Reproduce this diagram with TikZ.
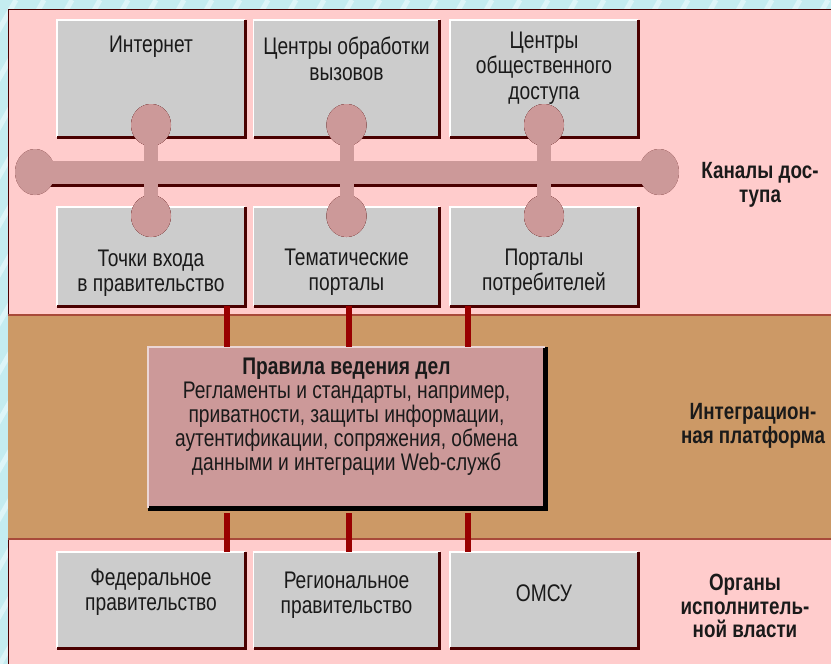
\documentclass[tikz,border=0pt]{standalone}
\usepackage{fontspec}
\setmainfont{Liberation Sans}[FakeStretch=0.8]
\definecolor{outercyan}{HTML}{C4ECF0}
\definecolor{stripe}{HTML}{DDF5F8}
\definecolor{panelpink}{HTML}{FFCCCC}
\definecolor{bandbrown}{HTML}{CC9966}
\definecolor{bandline}{HTML}{A84A3A}
\definecolor{boxgrey}{HTML}{CCCCCC}
\definecolor{shadowred}{HTML}{4A0000}
\definecolor{rose}{HTML}{CC9999}
\definecolor{connred}{HTML}{990000}
\definecolor{txt}{HTML}{1A1A1A}
\begin{document}
\begin{tikzpicture}[x=1pt,y=-1pt,
  gbox/.style={fill=boxgrey,draw=none,inner sep=0pt,outer sep=0pt},
  midbox/.style={fill=rose,draw=none,inner sep=0pt,outer sep=0pt},
  hl/.style={draw=white,line width=1.5pt},
  sh/.style={draw=shadowred,line width=3pt},
  btext/.style={align=center,text=txt,inner sep=0pt,font=\fontsize{24}{25.5}\selectfont},
  mtext/.style={align=center,text=txt,inner sep=0pt,font=\fontsize{24}{24}\selectfont},
  side/.style={align=center,text=txt,inner sep=0pt,font=\bfseries\fontsize{23.5}{23.5}\selectfont},
  conn/.style={draw=connred,line width=6pt},
  connsh/.style={draw=black,line width=6pt},
  busfill/.style={fill=rose},
  busshadow/.style={fill=shadowred}
]
\useasboundingbox (0,0) rectangle (831,664);
% outer hatched background
\fill[outercyan] (0,0) rectangle (831,664);
\begin{scope}
  \clip (0,0) rectangle (831,664);
  \foreach \i in {-420,-392,...,860} \draw[stripe,line width=5pt] (\i,664) -- (\i+380,0);
\end{scope}
% panel and bands
\fill[panelpink] (8,9) rectangle (831,664);
\draw[shadowred,line width=1pt] (8,664) -- (8,9) -- (831,9);
\fill[bandbrown] (8,315) rectangle (831,539);
\draw[bandline,line width=1.2pt] (8,315) -- (831,315);
\draw[bandline,line width=1.2pt] (8,539) -- (831,539);

% grey boxes
\node[gbox,minimum width=188,minimum height=117] (t1) at (151,78.5) {};
\node[gbox,minimum width=186,minimum height=117] (t2) at (346.5,78.5) {};
\node[gbox,minimum width=188,minimum height=117] (t3) at (544,78.5) {};
\node[gbox,minimum width=188,minimum height=99] (m1) at (151,256.5) {};
\node[gbox,minimum width=186,minimum height=99] (m2) at (346.5,256.5) {};
\node[gbox,minimum width=188,minimum height=99] (m3) at (544,256.5) {};
\node[gbox,minimum width=188,minimum height=96] (b1) at (151,600) {};
\node[gbox,minimum width=186,minimum height=96] (b2) at (346.5,600) {};
\node[gbox,minimum width=188,minimum height=96] (b3) at (544,600) {};
\foreach \n in {t1,t2,t3,m1,m2,m3,b1,b2,b3}{
  \draw[hl] (\n.south west) -- (\n.north west) -- (\n.north east);
  \draw[sh,shift={(1.5,1.5)}] (\n.north east) -- (\n.south east) -- (\n.south west);
}

% connector positions
\coordinate (c1) at (227,0);
\coordinate (c2) at (348.5,0);
\coordinate (c3) at (467.5,0);

% middle box
\node[midbox,minimum width=397,minimum height=161] (mid) at (346.5,427.5) {};
\draw[draw=black,line width=5pt,shift={(2.5,2.5)}] (mid.north east) -- (mid.south east) -- (mid.south west);
\draw[draw=white!60!rose,line width=1.2pt] (mid.south west) -- (mid.north west) -- (mid.north east);

% connectors
\foreach \c in {c1,c2,c3}{
  \draw[connsh,shift={(2,0)}] (m1.south -| \c) -- (mid.north -| \c);
  \draw[conn] (m1.south -| \c) -- (mid.north -| \c);
  \draw[connsh,shift={(2,0)}] ([yshift=-5pt]mid.south -| \c) -- (b1.north -| \c);
  \draw[conn] ([yshift=-5pt]mid.south -| \c) -- (b1.north -| \c);
}

% bus (access channels)
\coordinate (busL) at (35,172);
\coordinate (busR) at (659,172);
\foreach \x/\k in {151/1,346.5/2,544/3}{
  \coordinate (jt\k) at (\x,125);
  \coordinate (jb\k) at (\x,216);
}
\begin{scope}[shift={(3,3)}]
  \fill[busshadow] (35,160.5) rectangle (659,183.5);
  \fill[busshadow] (busL) ellipse [x radius=20,y radius=23];
  \fill[busshadow] (busR) ellipse [x radius=20,y radius=23];
  \foreach \k in {1,2,3}{
    \fill[busshadow] ([xshift=-7pt]jt\k) rectangle ([xshift=7pt]jb\k);
    \fill[busshadow] (jt\k) ellipse [x radius=20,y radius=21];
    \fill[busshadow] (jb\k) ellipse [x radius=20,y radius=21];
  }
\end{scope}
\begin{scope}[shift={(-1,-1)}]
  \foreach \k in {1,2,3}{
    \fill[shadowred] (jt\k) ellipse [x radius=20,y radius=21];
    \fill[shadowred] (jb\k) ellipse [x radius=20,y radius=21];
  }
\end{scope}
\fill[busfill] (35,160.5) rectangle (659,183.5);
\fill[busfill] (busL) ellipse [x radius=20,y radius=23];
\fill[busfill] (busR) ellipse [x radius=20,y radius=23];
\foreach \k in {1,2,3}{
  \fill[busfill] ([xshift=-7pt]jt\k) rectangle ([xshift=7pt]jb\k);
  \fill[busfill] (jt\k) ellipse [x radius=20,y radius=21];
  \fill[busfill] (jb\k) ellipse [x radius=20,y radius=21];
}

% box texts
\node[btext] (t1l) at (151,47) {Интернет};
\node[btext] (t2l) at (346.5,59) {Центры обработки\\вызовов};
\node[btext] (t3l) at (544,68) {Центры\\общественного\\доступа};
\node[btext] (m1l) at (151,273) {Точки входа\\в правительство};
\node[btext] (m2l) at (346.5,272) {Тематические\\порталы};
\node[btext] (m3l) at (544,272) {Порталы\\потребителей};
\node[btext] (b1l) at (151,592) {Федеральное\\правительство};
\node[btext] (b2l) at (346.5,595) {Региональное\\правительство};
\node[btext] (b3l) at (544,593) {ОМСУ};
\node[mtext] (midl) at (346.5,417) {\textbf{Правила ведения дел}\\Регламенты и стандарты, например,\\приватности, защиты информации,\\аутентификации, сопряжения, обмена\\данными и интеграции Web-служб};

% side labels
\node[side] (s1) at (760,185) {Каналы дос-\\тупа};
\node[side] (s2) at (753,426) {Интеграцион-\\ная платформа};
\node[side] (s3) at (745,606) {Органы\\исполнитель-\\ной власти};
\end{tikzpicture}
\end{document}
